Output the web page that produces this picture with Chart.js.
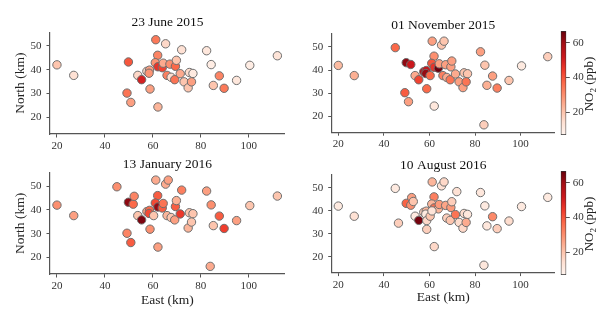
<!DOCTYPE html>
<html>
<head>
<meta charset="utf-8">
<title>NO2 stations</title>
<script src="https://cdn.jsdelivr.net/npm/chart.js@4"></script>
<style>
  body { margin: 0; background: #fff; width: 598px; height: 325px; position: relative; overflow: hidden; }
  canvas { position: absolute; }
  .cblabel { position: absolute; font-family: 'Liberation Serif', 'DejaVu Serif', serif; font-size: 13px; color: #222;
             white-space: nowrap; line-height: 1; transform: translate(-50%, -50%) rotate(-90deg); }
  .cblabel sub { font-size: 9px; }
</style>
</head>
<body>
<canvas id="p1" width="290" height="150" style="left:0;top:0"></canvas>
<canvas id="p2" width="270" height="150" style="left:290px;top:0"></canvas>
<canvas id="p3" width="290" height="175" style="left:0;top:150px"></canvas>
<canvas id="p4" width="270" height="175" style="left:290px;top:150px"></canvas>
<canvas id="cb1" width="43" height="150" style="left:555px;top:0"></canvas>
<canvas id="cb2" width="43" height="175" style="left:555px;top:150px"></canvas>
<div class="cblabel" style="left:590px;top:84px">NO<sub>2</sub> (ppb)</div>
<div class="cblabel" style="left:590px;top:224px">NO<sub>2</sub> (ppb)</div>

<script>
// station positions (km)
const east  = [20, 27, 45, 46.4, 49.8, 51.8, 52.2, 52.9, 53.7, 55.3,
               49.2, 50.8, 57.5, 58.6, 58.4, 58.8, 60.3, 58.8, 61.2, 65.3,
               66.4, 62, 61, 62.1, 63.9, 64.3, 62.1, 65.9, 67.1, 67.6,
               69.1, 69.4, 69.8, 71.4, 72, 73, 74.7, 75.2, 76.7, 76.1,
               82.4, 84.3, 85.2, 87.7, 89.7, 94.9, 100.4, 111.9, 83.9, 61.1];
const north = [42, 37.6, 49.7, 34.6, 43.2, 42.4, 45.7, 44, 37.6, 35.8,
               30.2, 26.3, 39.3, 39.8, 38.5, 35.7, 37.6, 31.9, 52.5, 50.8,
               52.5, 46, 42.9, 41.2, 40.8, 42.7, 24.4, 37.6, 42.3, 36.8,
               35.8, 41.4, 43.9, 38.3, 48.3, 34.9, 32.4, 38.8, 38.4, 34.9,
               47.9, 42.1, 33.4, 37.4, 32.2, 35.5, 41.8, 45.8, 16.3, 39.9];

// NO2 (ppb) per station, null = no reading
const no2Jun2015 = [20, 14, null, null, 40, null, null, null, 16, 50,
                    35, 27, 16, 27, 29, null, null, 27, 34, 16,
                    null, 32, 29, 46, 43, 25, 23, 33, 30, 15,
                    35, 37, 20, 25, 14, 20, 20, 15, 11, 27,
                    12, 10, 20, 32, 34, 12, 10, 13, null, null];
const no2Nov2015 = [22, 24, 37, null, 62, 52, null, null, 25, 43,
                    39, 27, 57, 53, 61, null, 37, 37, 27, 20,
                    20, 30, 40, 46, 66, 27, 12, 33, 27, 25,
                    35, 27, 27, 25, null, 27, 27, 20, 20, 35,
                    27, 20, 24, 27, 33, 20, 11, 18, 18, null];
const no2Jan2016 = [30, 27, 30, null, 62, 37, 32, null, 20, 64,
                    32, 39, 27, 37, 42, null, 20, 30, 25, 25,
                    27, 39, 42, 61, 39, 35, 27, 23, null, 20,
                    27, 39, 24, 45, 33, null, 23, 20, 20, 20,
                    27, 30, 20, 39, 44, 27, 20, 20, 25, null];
const no2Aug2016 = [11, 14, 11, 18, 38, 30, 27, 20, 11, 65,
                    null, null, 18, 23, 11, 16, 20, 18, 23, 14,
                    16, 33, 23, 36, 23, 28, 16, null, 26, 18,
                    20, 28, 18, 35, 14, 15, 16, 15, 12, 25,
                    12, 11, 12, 31, 18, 15, 11, 11, 12, 13];

const panelTitles = ['23 June 2015', '01 November 2015', '13 January 2016', '10 August 2016'];
const xTicks = [20, 40, 60, 80, 100];
const yTicks = [20, 30, 40, 50];
const cbTicks = [20, 40, 60];

const reds = ['#fff5f0', '#fee0d2', '#fcbba1', '#fc9272', '#fb6a4a', '#ef3b2c', '#cb181d', '#a50f15', '#67000d'];
const vmin = 7, vmax = 66.7;

const serif = "'Liberation Serif', 'DejaVu Serif', serif";
const axisGrey = '#555';

function hex2rgb(h) {
  return [parseInt(h.slice(1, 3), 16), parseInt(h.slice(3, 5), 16), parseInt(h.slice(5, 7), 16)];
}
function redsColor(v) {
  let t = (v - vmin) / (vmax - vmin);
  t = Math.max(0, Math.min(1, t)) * (reds.length - 1);
  const i = Math.min(Math.floor(t), reds.length - 2);
  const f = t - i;
  const a = hex2rgb(reds[i]), b = hex2rgb(reds[i + 1]);
  const c = a.map((x, k) => Math.round(x + (b[k] - x) * f));
  return 'rgb(' + c.join(',') + ')';
}

function tickGrid() {
  return { display: true, drawOnChartArea: false, drawTicks: true, tickLength: 3.5, tickWidth: 1, tickColor: axisGrey };
}

function panel(id, title, vals, g) {
  const pts = [], cols = [];
  for (let i = 0; i < east.length; i++) {
    if (vals[i] == null) continue;
    pts.push({ x: east[i], y: north[i] });
    cols.push(redsColor(vals[i]));
  }
  new Chart(document.getElementById(id), {
    type: 'scatter',
    data: {
      datasets: [{
        data: pts,
        pointBackgroundColor: cols,
        pointBorderColor: '#6e6e6e',
        pointBorderWidth: 1,
        pointRadius: 4.2,
        pointHoverRadius: 4.2
      }]
    },
    options: {
      responsive: false,
      animation: false,
      events: [],
      layout: { padding: { left: 0, right: g.padRight, top: 0, bottom: 0 } },
      plugins: {
        legend: { display: false },
        tooltip: { enabled: false },
        title: {
          display: true, text: title, fullSize: false, color: '#111',
          font: { family: serif, size: 13.5, weight: 'normal', lineHeight: 1.2 },
          padding: { top: g.tTop, bottom: g.tBot }
        }
      },
      scales: {
        x: {
          type: 'linear', min: 17.1, max: 115,
          afterBuildTicks: s => { s.ticks = xTicks.map(v => ({ value: v })); },
          afterFit: s => { s.height = g.xH; },
          ticks: { font: { family: serif, size: 11 }, color: '#333', padding: 2, maxRotation: 0 },
          grid: tickGrid(),
          border: { display: true, color: axisGrey, width: 1.2 },
          title: {
            display: g.xTitle, text: 'East (km)', color: '#222',
            font: { family: serif, size: 13.5, lineHeight: 1.2 },
            padding: { top: 0, bottom: g.xTitlePad }
          }
        },
        y: {
          type: 'linear', min: 13.1, max: 55.6,
          afterBuildTicks: s => { s.ticks = yTicks.map(v => ({ value: v })); },
          afterFit: s => { s.width = g.yW; },
          ticks: { font: { family: serif, size: 11 }, color: '#333', padding: 5 },
          grid: tickGrid(),
          border: { display: true, color: axisGrey, width: 1.2 },
          title: {
            display: g.yTitle, text: 'North (km)', color: '#222',
            font: { family: serif, size: 13.5, lineHeight: 1.2 },
            padding: { top: 12.6, bottom: 0 }
          }
        }
      }
    }
  });
}

function colorbar(id, padTop, padBottom) {
  new Chart(document.getElementById(id), {
    type: 'bar',
    data: {
      labels: [''],
      datasets: [{
        data: [[vmin, vmax]],
        backgroundColor: ctx => {
          const area = ctx.chart.chartArea;
          if (!area) return reds[4];
          const gr = ctx.chart.ctx.createLinearGradient(0, area.bottom, 0, area.top);
          reds.forEach((c, i) => gr.addColorStop(i / (reds.length - 1), c));
          return gr;
        },
        borderColor: '#333',
        borderWidth: 1,
        borderSkipped: false,
        barPercentage: 1,
        categoryPercentage: 1
      }]
    },
    options: {
      responsive: false,
      animation: false,
      events: [],
      layout: { padding: { left: 5.7, right: 0, top: padTop, bottom: padBottom } },
      plugins: { legend: { display: false }, tooltip: { enabled: false } },
      scales: {
        x: { display: false },
        y: {
          position: 'right', min: vmin, max: vmax,
          afterBuildTicks: s => { s.ticks = cbTicks.map(v => ({ value: v })); },
          afterFit: s => { s.width = 31.7; },
          ticks: { font: { family: serif, size: 11 }, color: '#333', padding: 3 },
          grid: tickGrid(),
          border: { display: false }
        }
      }
    }
  });
}

panel('p1', panelTitles[0], no2Jun2015, { padRight: 5, xH: 16, yW: 50, tTop: 14.6, tBot: 1.5, xTitle: false, yTitle: true, xTitlePad: 0 });
panel('p2', panelTitles[1], no2Nov2015, { padRight: 3.3, xH: 17.8, yW: 41.7, tTop: 16.9, tBot: 0.9, xTitle: false, yTitle: false, xTitlePad: 0 });
panel('p3', panelTitles[2], no2Jan2016, { padRight: 5, xH: 51, yW: 50, tTop: 5.9, tBot: 0.6, xTitle: true, yTitle: true, xTitlePad: 16.9 });
panel('p4', panelTitles[3], no2Aug2016, { padRight: 3.3, xH: 52.4, yW: 41.7, tTop: 7.6, tBot: 1.0, xTitle: true, yTitle: false, xTitlePad: 19.2 });
colorbar('cb1', 31, 15);
colorbar('cb2', 21, 50);
</script>
</body>
</html>
